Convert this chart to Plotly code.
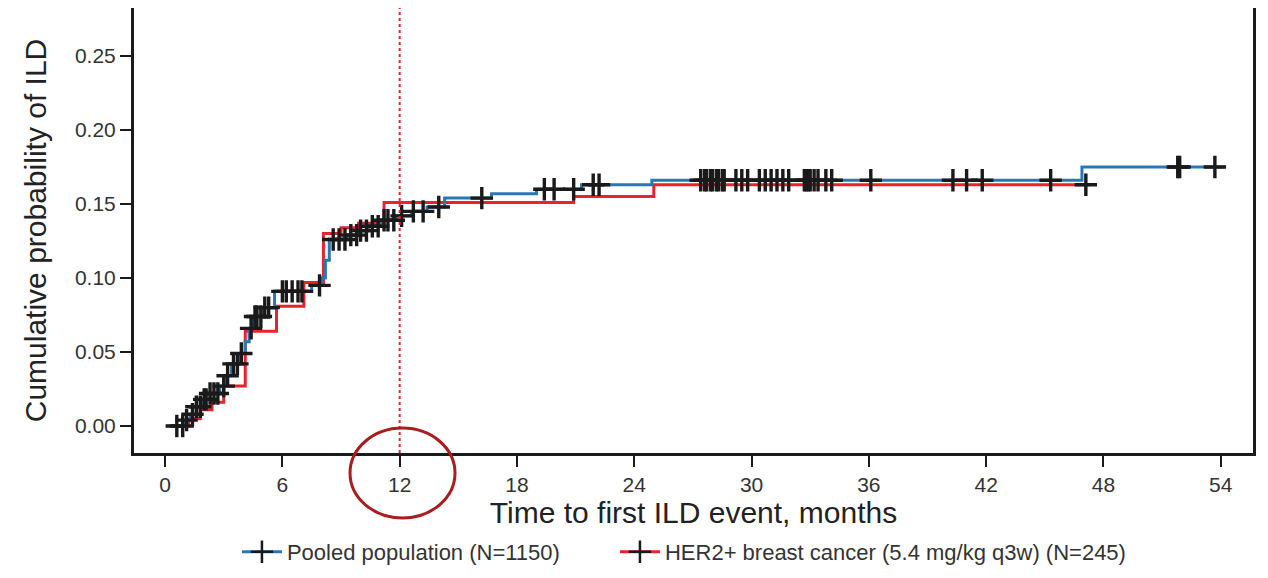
import numpy as np
import plotly.graph_objects as go

# ---- data ----
pooled_t = [0.2, 1.0, 1.3, 1.6, 1.9, 2.3, 2.8, 3.1, 3.4, 3.8, 4.1, 4.3, 4.5, 5.0, 5.6,
            7.5, 8.0, 8.2, 8.4, 9.3, 9.9, 10.4, 11.0, 11.8, 12.6, 13.4, 14.3, 16.7,
            19.0, 21.3, 24.9, 46.9, 54.2]
pooled_p = [0.0, 0.004, 0.008, 0.013, 0.018, 0.022, 0.027, 0.034, 0.042, 0.049, 0.057,
            0.066, 0.074, 0.080, 0.091, 0.095, 0.100, 0.112, 0.126, 0.129, 0.132, 0.135,
            0.139, 0.142, 0.145, 0.148, 0.154, 0.157, 0.160, 0.163, 0.166, 0.175, 0.175]

her2_t = [0.2, 1.2, 1.8, 2.4, 3.0, 4.1, 5.7, 7.1, 8.1, 9.0, 9.9, 11.2, 20.9, 25.0, 47.3]
her2_p = [0.0, 0.005, 0.011, 0.016, 0.027, 0.064, 0.081, 0.097, 0.130, 0.134, 0.137,
          0.151, 0.155, 0.163, 0.163]

pooled_censor = [0.6, 0.9, 1.1, 1.4, 1.6, 1.8, 2.0, 2.1, 2.3, 2.5, 2.7, 3.0, 3.2, 3.5, 3.7,
                 3.9, 4.4, 4.6, 4.7, 4.9, 5.1, 5.3, 6.0, 6.2, 6.5, 6.8, 7.0, 7.9, 8.6, 8.9,
                 9.2, 9.5, 9.8, 10.0, 10.3, 10.6, 10.9, 11.2, 11.4, 11.7, 12.1, 12.7, 13.2,
                 14.0, 16.2, 19.4, 19.9, 20.9, 21.9, 22.2, 27.4, 27.6, 27.7, 27.9, 28.0,
                 28.2, 28.3, 28.5, 28.6, 29.2, 29.5, 29.8, 30.4, 30.7, 31.0, 31.3, 31.6,
                 31.9, 32.7, 32.8, 32.9, 33.0, 33.2, 33.4, 33.8, 34.1, 36.1, 40.3, 41.0,
                 41.8, 45.3, 51.8, 51.9, 53.7]
her2_censor = [47.1]

x_ticks = [0, 6, 12, 18, 24, 30, 36, 42, 48, 54]
y_ticks = [0.0, 0.05, 0.10, 0.15, 0.20, 0.25]

names = ["Pooled population (N=1150)", "HER2+ breast cancer (5.4 mg/kg q3w) (N=245)"]
colors = ["#2878b8", "#e8232b"]
legend_ids = ["legend", "legend2"]


def step_value(times, probs, t):
    i = np.searchsorted(np.array(times), t, side="right") - 1
    return probs[max(i, 0)]


fig = go.Figure()
series = [(pooled_t, pooled_p, pooled_censor), (her2_t, her2_p, her2_censor)]
for idx in [1, 0]:
    t, p, c = series[idx]
    fig.add_trace(go.Scatter(x=t, y=p, mode="lines",
                             line=dict(color=colors[idx], width=3, shape="hv"),
                             showlegend=False, hoverinfo="skip"))
for idx in [0, 1]:
    t, p, c = series[idx]
    fig.add_trace(go.Scatter(x=c, y=[step_value(t, p, v) for v in c], mode="markers",
                             marker=dict(symbol="cross-thin", size=16,
                                         line=dict(color="#1a1a1a", width=3.4)),
                             showlegend=False, hoverinfo="skip"))
for idx in [0, 1]:
    fig.add_trace(go.Scatter(x=[None], y=[None], mode="lines+markers", name=names[idx],
                             legend=legend_ids[idx],
                             line=dict(color=colors[idx], width=3),
                             marker=dict(symbol="cross-thin", size=16,
                                         line=dict(color="#1a1a1a", width=2.5))))

# dotted reference line at 12 months
fig.add_shape(type="line", x0=12, x1=12, xref="x", y0=0, y1=1, yref="paper",
              line=dict(color="#e3262e", width=2, dash="dot"))
# circle around the 12 tick label
fig.add_shape(type="circle", xref="x", yref="paper", x0=9.46, x1=14.83, y0=-0.146, y1=0.056,
              line=dict(color="#a81e1e", width=3))

font_family = "Liberation Sans, Arial, sans-serif"
legend_common = dict(orientation="h", xanchor="left", y=-0.2225, yanchor="middle",
                     font=dict(size=22, color="#333333"), itemwidth=40,
                     bgcolor="rgba(0,0,0,0)")
fig.update_layout(
    width=1260, height=570,
    margin=dict(l=126, r=15, t=0, b=125),
    paper_bgcolor="white", plot_bgcolor="white",
    font=dict(family=font_family, color="#333333"),
    legend=dict(x=0.092, **legend_common),
    legend2=dict(x=0.4298, **legend_common),
    xaxis=dict(range=[-1.59, 55.65], tickvals=x_ticks, ticks="outside", ticklen=11,
               tickwidth=2, tickcolor="#1a1a1a", showgrid=False, zeroline=False,
               showline=True, linecolor="#1a1a1a", linewidth=3, mirror=True,
               automargin=False,
               tickfont=dict(size=21, color="#333333"),
               title=dict(text="Time to first ILD event, months",
                          font=dict(size=30, color="#222222"), standoff=4)),
    yaxis=dict(range=[-0.0182, 0.2824], tickvals=y_ticks, tickformat=".2f", ticks="outside",
               ticklen=11, tickwidth=2, tickcolor="#1a1a1a", showgrid=False, zeroline=False,
               showline=True, linecolor="#1a1a1a", linewidth=3, mirror=True,
               automargin=False,
               tickfont=dict(size=21, color="#333333"),
               title=dict(text="Cumulative probability of ILD",
                          font=dict(size=30, color="#222222"), standoff=20)),
)

fig.write_html("out.html")
